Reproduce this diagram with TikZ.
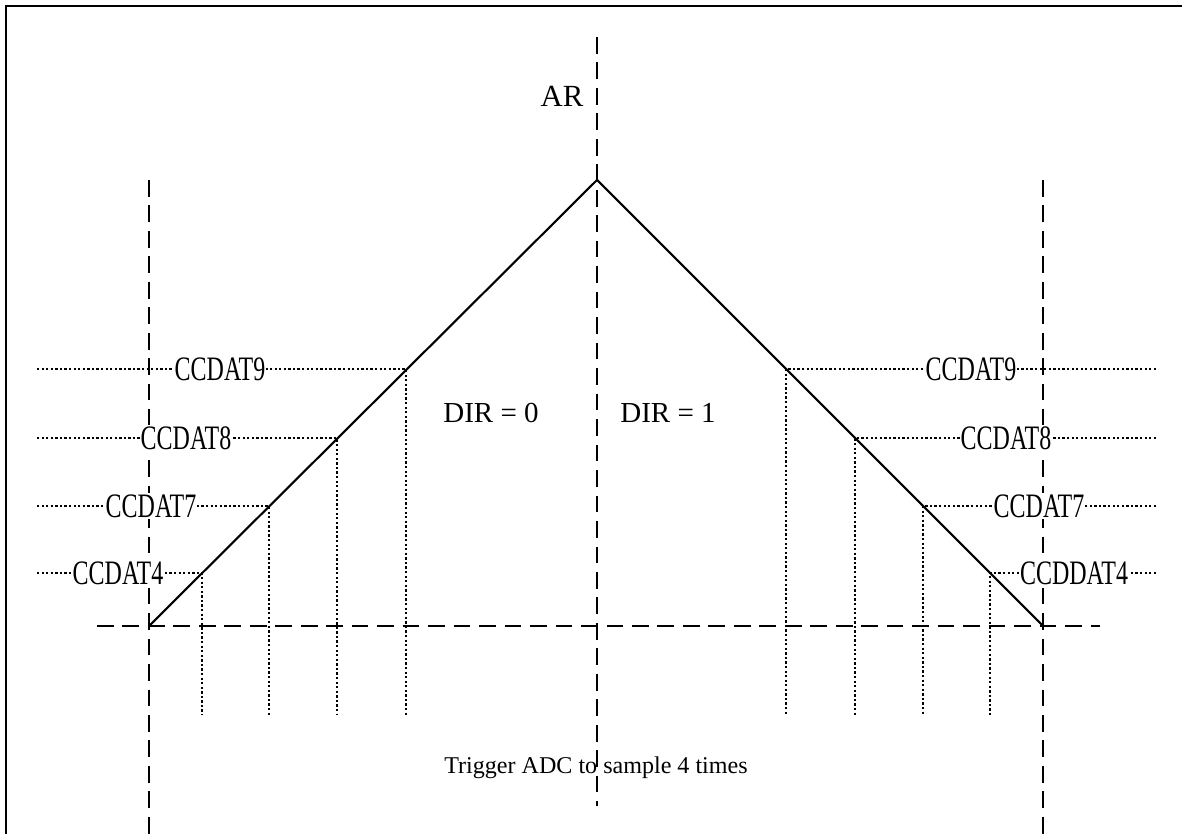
\documentclass[tikz,border=0pt]{standalone}
\usepackage{fontspec}
\setmainfont{Liberation Serif}
\newfontfamily\narrowfont[FakeStretch=0.70]{Liberation Serif}

\tikzset{
    guide/.style={dash pattern=on 9.5pt off 5pt, line width=1.1pt},
    drop/.style={dash pattern=on 1.3pt off 1.3pt, line width=1pt},
    ramp/.style={line width=1.2pt},
    level/.style={fill=white, inner sep=0.6pt, font=\narrowfont\fontsize{19.5}{22}\selectfont},
}

\begin{document}
\begin{tikzpicture}[x=0.02cm, y=-0.02cm]
    % 1. Khung
    \useasboundingbox (0,0) rectangle (1182,834);
    \draw[line width=1.1pt] (6,834) -- (6,6) -- (1182,6);

    % 2. Các điểm chính
    \coordinate (apex) at (597,180);
    \coordinate (lbase) at (149,626);
    \coordinate (rbase) at (1043,626);
    \coordinate (artop) at (597,37);
    \coordinate (arbot) at (597,806);
    \coordinate (ltop) at (149,180);
    \coordinate (lbot) at (149,834);
    \coordinate (rtop) at (1043,180);
    \coordinate (rbot) at (1043,834);
    \coordinate (zleft) at (97,626);
    \coordinate (zright) at (1100,626);

    % 3. Đường gióng (nét đứt)
    \draw[guide] (artop) -- (arbot);
    \draw[guide] (ltop) -- (lbot);
    \draw[guide] (rtop) -- (rbot);
    \draw[guide] (zleft) -- (zright);

    % 4. Bộ đếm tăng rồi giảm
    \draw[ramp] (lbase) -- (apex) -- (rbase);

    % 5. Các mức so sánh (nét chấm)
    \foreach \y/\xl/\xr/\tl/\tr/\cl/\cr in {
        369/406/786/CCDAT9/CCDAT9/220/971,
        438/337/855/CCDAT8/CCDAT8/186/1006,
        506/269/923/CCDAT7/CCDAT7/151/1039,
        573/202/990/CCDAT4/CCDDAT4/118/1074} {
        \coordinate (up\y) at (\xl,\y);
        \coordinate (dn\y) at (\xr,\y);
        \coordinate (ue\y) at (37,\y);
        \coordinate (de\y) at (1156,\y);
        \coordinate (uf\y) at (\xl,715);
        \coordinate (df\y) at (\xr,715);
        \draw[drop] (ue\y) -- (up\y) -- (uf\y);
        \draw[drop] (de\y) -- (dn\y) -- (df\y);
        \node[level] (lu\y) at (\cl,\y) {\tl};
        \node[level] (ld\y) at (\cr,\y) {\tr};
    }

    % 6. Nhãn
    \node[font=\fontsize{17.5}{20}\selectfont] (ar) at (562,96) {AR};
    \node[font=\fontsize{16.5}{20}\selectfont] (dir0) at (491,413) {DIR = 0};
    \node[font=\fontsize{16.5}{20}\selectfont] (dir1) at (668,413) {DIR = 1};
    \node[font=\fontsize{13.7}{16}\selectfont, anchor=base] (trig) at (596,773) {Trigger ADC to sample 4 times};
\end{tikzpicture}
\end{document}
